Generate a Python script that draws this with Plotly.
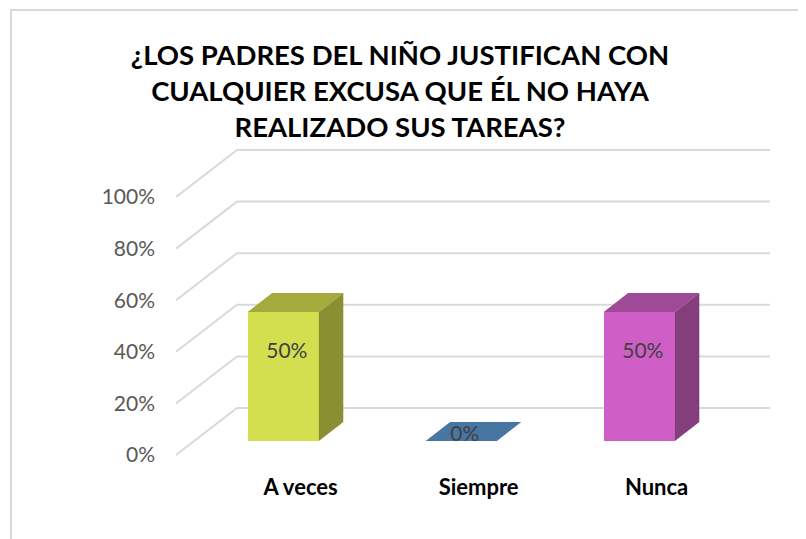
import plotly.graph_objects as go

# ---------------- data ----------------
categories = ["A veces", "Siempre", "Nunca"]
values = [50, 0, 50]
value_labels = ["50%", "0%", "50%"]
tick_vals = [0, 20, 40, 60, 80, 100]
tick_text = ["0%", "20%", "40%", "60%", "80%", "100%"]
title_text = ("¿LOS PADRES DEL NIÑO JUSTIFICAN CON<br>"
              "CUALQUIER EXCUSA QUE ÉL NO HAYA<br>"
              "REALIZADO SUS TAREAS?")

# ---------------- styles ----------------
front_colors = ["#D4DF4F", "#4876A2", "#CF5FC6"]
top_colors = ["#A4AB3C", "#4876A2", "#9E4A96"]
side_colors = ["#8A9032", "#3B6287", "#843E7C"]
grid_color = "#D9D9D9"
FONT = "Lato"

OFF = 8                      # page body margin
W, H = 806 - OFF, 539 - OFF
ML = 176 - OFF
MT = 140 - OFF
PX_PER_X = 178.0             # pixels per category unit
PX_PER_V = 2.58              # pixels per percent
plot_w = 596
plot_h = 328
MR = W - ML - plot_w
MB = H - MT - plot_h
x0 = -0.5
xr = [x0, x0 + plot_w / PX_PER_X]
v_bottom = -13 / PX_PER_V
yr = [v_bottom, v_bottom + plot_h / PX_PER_V]

# projection of "depth" (0 = front floor edge, 1 = back wall)
DX = 61 / PX_PER_X
DY = 47 / PX_PER_V
bar_depth0 = 0.30
bar_depth = 0.40
bar_w = 0.40
bar_shift = bar_depth0 * DX
bar_base = bar_depth0 * DY
bdx = bar_depth * DX
bdy = bar_depth * DY
grid_right = x0 + (770 - 176) / PX_PER_X

fig = go.Figure()

# gridlines (front floor edge -> back wall), drawn beneath the bars
for v in tick_vals:
    path = (f"M {x0},{v} L {x0 + DX},{v + DY} L {grid_right},{v + DY}")
    fig.add_shape(type="path", xref="x", yref="y", path=path,
                  line=dict(color=grid_color, width=2), layer="below")

# front faces of bars
xc = [i + bar_shift for i in range(len(categories))]
fig.add_trace(go.Bar(x=xc, y=values, base=bar_base, width=bar_w,
                     marker=dict(color=front_colors, line=dict(width=0)),
                     showlegend=False, hoverinfo="skip"))

# top and side faces
for i, v in enumerate(values):
    xl_, xr_ = xc[i] - bar_w / 2, xc[i] + bar_w / 2
    top = bar_base + v
    fig.add_trace(go.Scatter(
        x=[xl_, xr_, xr_ + bdx, xl_ + bdx, xl_],
        y=[top, top, top + bdy, top + bdy, top],
        mode="lines", fill="toself", fillcolor=top_colors[i],
        line=dict(width=0, color=top_colors[i]),
        hoverinfo="skip", showlegend=False))
    if v > 0:
        fig.add_trace(go.Scatter(
            x=[xr_, xr_, xr_ + bdx, xr_ + bdx, xr_],
            y=[bar_base, top, top + bdy, bar_base + bdy, bar_base],
            mode="lines", fill="toself", fillcolor=side_colors[i],
            line=dict(width=0, color=side_colors[i]),
            hoverinfo="skip", showlegend=False))

# data labels
fig.add_trace(go.Scatter(
    x=[c + 0.02 for c in xc],
    y=[bar_base + 0.65 * v + bdy / 4 for v in values],
    mode="text", text=value_labels,
    textfont=dict(family=FONT, size=21, color="#404040"),
    hoverinfo="skip", showlegend=False))

# chart border (top and left edges visible)
bx0, by0 = 11 - OFF, 10 - OFF
fig.add_shape(type="rect", xref="paper", yref="paper",
              x0=(bx0 - ML) / plot_w, x1=(W + 20 - ML) / plot_w,
              y0=-(H + 20 - MT - plot_h) / plot_h,
              y1=1 + (MT - by0) / plot_h,
              line=dict(color=grid_color, width=2), layer="below")

fig.update_layout(
    width=W, height=H,
    margin=dict(l=ML, r=MR, t=MT, b=MB, pad=0),
    paper_bgcolor="white", plot_bgcolor="white",
    title=dict(text=title_text, xref="container", yref="container",
               x=(400 - OFF) / W, xanchor="center",
               y=1 - 57 / H, yanchor="top",
               font=dict(family=FONT, size=27.5, color="black", weight="bold")),
    xaxis=dict(range=xr, tickvals=[i + 0.2 for i in range(len(categories))],
               ticktext=categories, showgrid=False, zeroline=False,
               showline=False, ticks="", ticklabelstandoff=4,
               tickfont=dict(family=FONT, size=22, color="black", weight="bold")),
    yaxis=dict(range=yr, tickvals=tick_vals, ticktext=tick_text,
               showgrid=False, zeroline=False, showline=False, ticks="",
               ticklabelstandoff=20,
               tickfont=dict(family=FONT, size=21, color="#595959")),
    bargap=0,
)

fig.write_html("out.html")
